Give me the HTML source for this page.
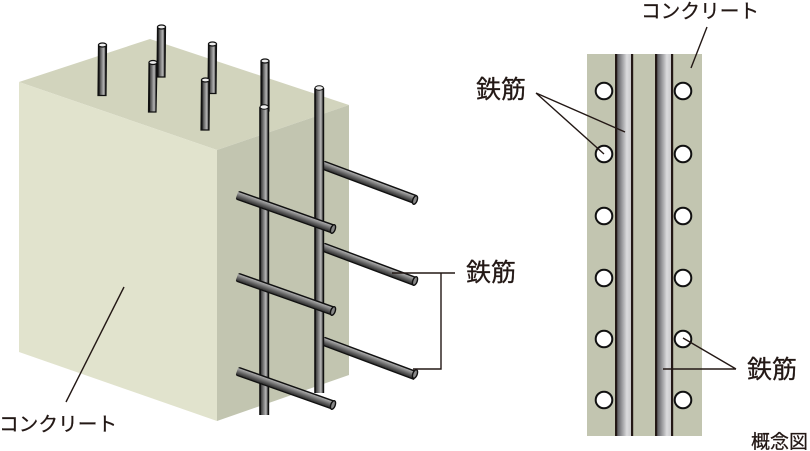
<!DOCTYPE html>
<html><head><meta charset="utf-8"><style>
html,body{margin:0;padding:0;background:#fff}
svg{display:block}
text{font-family:"Liberation Sans","Noto Sans CJK JP",sans-serif;fill:#231815;stroke:#231815;stroke-width:.25px}
</style></head><body>
<svg width="810" height="451" viewBox="0 0 810 451" xmlns="http://www.w3.org/2000/svg">
<defs>
<linearGradient id="v" x1="0" x2="1" y1="0" y2="0">
<stop offset="0" stop-color="#111"/><stop offset=".15" stop-color="#111"/><stop offset=".2" stop-color="#444"/><stop offset=".66" stop-color="#b4b4b4"/><stop offset=".84" stop-color="#666"/><stop offset=".86" stop-color="#111"/><stop offset="1" stop-color="#111"/>
</linearGradient>
<linearGradient id="h" x1="0" x2="0" y1="0" y2="1">
<stop offset="0" stop-color="#111"/><stop offset=".13" stop-color="#111"/><stop offset=".18" stop-color="#aaa"/><stop offset=".55" stop-color="#666"/><stop offset=".85" stop-color="#333"/><stop offset=".87" stop-color="#111"/><stop offset="1" stop-color="#111"/>
</linearGradient>
<linearGradient id="r" x1="0" x2="1" y1="0" y2="0">
<stop offset="0" stop-color="#4a4a4e"/><stop offset=".68" stop-color="#dcdcde"/><stop offset="1" stop-color="#c4c4c6"/>
</linearGradient>
</defs>

<!-- block -->
<polygon points="19,82 150,39 349,105 217,150" fill="#d2d4bd"/>
<polygon points="19,82 217,150 217,421 19,352" fill="#e1e3cd"/>
<polygon points="217,150 349,105 349,375 217,421" fill="#c2c5b0"/>

<!-- top rods -->
<g stroke="#111" stroke-width="1.200">
<polygon points="98.500,45 106.500,45 106,95.500 98,95.500" fill="url(#v)"/>
<ellipse cx="102.500" cy="45" rx="4" ry="2" fill="#eee"/>
<polygon points="157.500,27 165.500,27 165,77 157,77" fill="url(#v)"/>
<ellipse cx="161.500" cy="27" rx="4" ry="2" fill="#eee"/>
<polygon points="149,62.500 157,62.500 156,112 148.500,112" fill="url(#v)"/>
<ellipse cx="153" cy="62.500" rx="4" ry="2" fill="#eee"/>
<polygon points="208.500,44 216.500,44 216,93.500 208,93.500" fill="url(#v)"/>
<ellipse cx="212.500" cy="44" rx="4" ry="2" fill="#eee"/>
<polygon points="201.500,80 209.500,80 209,130 201,130" fill="url(#v)"/>
<ellipse cx="205.500" cy="80" rx="4" ry="2" fill="#eee"/>
<rect x="261" y="61" width="8" height="50" fill="url(#v)"/>
<ellipse cx="265" cy="61" rx="4" ry="2" fill="#eee"/>
</g>

<!-- rear horizontal bars -->
<g>
<rect x="0" y="-4.700" width="99" height="9.400" rx="1" transform="translate(323,165) rotate(20.500)" fill="url(#h)"/>
<ellipse cx="415" cy="200" rx="2.200" ry="4.500" transform="rotate(20 415 200)" fill="#888" stroke="#111" stroke-width="1.400"/>
<rect x="0" y="-4.700" width="99" height="9.400" rx="1" transform="translate(323,247) rotate(20.500)" fill="url(#h)"/>
<ellipse cx="415" cy="281" rx="2.200" ry="4.500" transform="rotate(20 415 281)" fill="#888" stroke="#111" stroke-width="1.400"/>
<rect x="0" y="-4.700" width="99" height="9.400" rx="1" transform="translate(323,341) rotate(20.500)" fill="url(#h)"/>
<ellipse cx="415" cy="374" rx="2.200" ry="4.500" transform="rotate(20 415 374)" fill="#888" stroke="#111" stroke-width="1.400"/>
</g>

<!-- vertical rods -->
<rect x="259.200" y="107" width="10" height="308" fill="url(#v)"/>
<ellipse cx="264.200" cy="107" rx="4.200" ry="2.200" fill="#eee" stroke="#111"/>
<rect x="314.200" y="88" width="10" height="305" fill="url(#v)"/>
<ellipse cx="319.200" cy="88" rx="4.200" ry="2.200" fill="#eee" stroke="#111"/>

<!-- front horizontal bars -->
<g>
<rect x="0" y="-4.700" width="103" height="9.400" rx="2" transform="translate(237,195) rotate(19.500)" fill="url(#h)"/>
<ellipse cx="333" cy="229" rx="2.200" ry="4.500" transform="rotate(20 333 229)" fill="#888" stroke="#111" stroke-width="1.400"/>
<rect x="0" y="-4.700" width="103" height="9.400" rx="2" transform="translate(237,277) rotate(19.500)" fill="url(#h)"/>
<ellipse cx="333" cy="311" rx="2.200" ry="4.500" transform="rotate(20 333 311)" fill="#888" stroke="#111" stroke-width="1.400"/>
<rect x="0" y="-4.700" width="103" height="9.400" rx="2" transform="translate(237,371) rotate(19.500)" fill="url(#h)"/>
<ellipse cx="333" cy="405" rx="2.200" ry="4.500" transform="rotate(20 333 405)" fill="#888" stroke="#111" stroke-width="1.400"/>
</g>

<!-- left leaders -->
<g stroke="#231815" stroke-width="1.400" fill="none">
<path d="M392,273H455M441,273V369H413"/>
<path d="M124,287L66,402"/>
</g>

<!-- section -->
<rect x="587" y="54" width="115" height="382" fill="#c2c5b0"/>
<rect x="616" y="54" width="16" height="382" fill="url(#r)"/>
<rect x="656" y="54" width="16" height="382" fill="url(#r)"/>
<g fill="#231815">
<rect x="615" y="54" width="2.200" height="382"/><rect x="631" y="54" width="2.200" height="382"/>
<rect x="655" y="54" width="2.200" height="382"/><rect x="671" y="54" width="2.200" height="382"/>
</g>
<g fill="#fff" stroke="#111" stroke-width="2">
<circle cx="604" cy="91" r="8.300"/><circle cx="683" cy="91" r="8.300"/>
<circle cx="604" cy="154" r="8.300"/><circle cx="683" cy="154" r="8.300"/>
<circle cx="604" cy="216" r="8.300"/><circle cx="683" cy="216" r="8.300"/>
<circle cx="604" cy="278" r="8.300"/><circle cx="683" cy="278" r="8.300"/>
<circle cx="604" cy="339" r="8.300"/><circle cx="683" cy="339" r="8.300"/>
<circle cx="604" cy="400" r="8.300"/><circle cx="683" cy="400" r="8.300"/>
</g>
<g stroke="#231815" stroke-width="1.400" fill="none">
<path d="M536,93L625,132M536,93L604,154"/>
<path d="M707,27L691,68"/>
<path d="M736,369L683,338M736,369H663"/>
</g>

<!-- labels -->
<text x="476" y="98" font-size="25">鉄筋</text>
<text x="466" y="281" font-size="25">鉄筋</text>
<text x="747" y="378" font-size="25">鉄筋</text>
<text x="641" y="18" font-size="19.700">コンクリート</text>
<text x="-1" y="431" font-size="19.700">コンクリート</text>
<text x="751" y="448" font-size="19">概念図</text>
</svg>
</body></html>
